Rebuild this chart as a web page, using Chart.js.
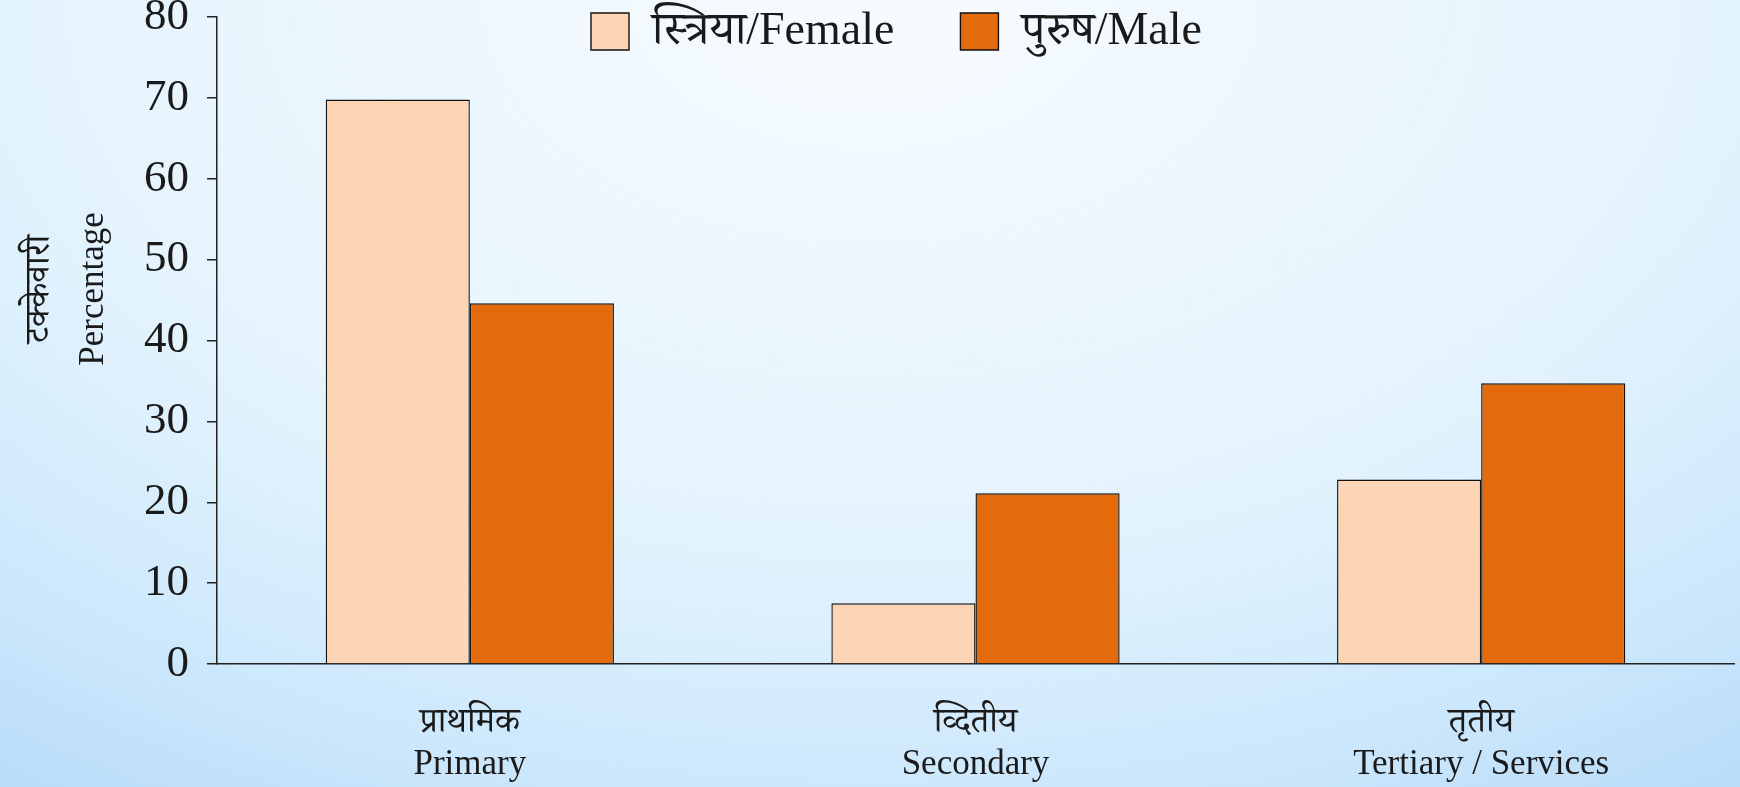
<!DOCTYPE html>
<html lang="ne">
<head>
<meta charset="UTF-8" />
<title>Employment by sector - Female / Male</title>
<script src="https://cdn.jsdelivr.net/npm/chart.js"></script>
<style>
  html, body {
    margin: 0;
    padding: 0;
  }
  body {
    width: 1740px;
    height: 787px;
    overflow: hidden;
    background: radial-gradient(ellipse 1531px 957px at 870px 0px,
      #f7fbff 0%, #e3f3fd 57%, #cde8fc 82%, #b9dcf8 100%);
  }
  .wrap {
    position: relative;
    width: 1740px;
    height: 787px;
  }
</style>
</head>
<body>

<div class="wrap">
  <canvas id="chart"></canvas>
</div>

<script>
  // data
  const categories = [
    ['प्राथमिक', 'Primary'],
    ['व्दितीय', 'Secondary'],
    ['तृतीय', 'Tertiary / Services']
  ];
  const femaleValues = [69.8, 7.5, 22.8];
  const maleValues = [44.6, 21.1, 34.7];
  const seriesNames = ['स्त्रिया/Female', 'पुरुष/Male'];
  const yTitle = ['टक्केवारी', 'Percentage'];

  const serif = "'Liberation Serif', 'Noto Serif Devanagari', 'Noto Sans Devanagari', serif";
  const ink = '#1a1a1a';

  // y title drawn as two rotated lines left of the axis
  const yTitlePlugin = {
    id: 'yTitle',
    afterDraw(chart) {
      const ctx = chart.ctx;
      ctx.save();
      ctx.fillStyle = ink;
      ctx.font = '35px ' + serif;
      ctx.textAlign = 'center';
      ctx.textBaseline = 'middle';
      const xs = [40, 94];
      yTitle.forEach((t, i) => {
        ctx.save();
        ctx.translate(xs[i], 289);
        ctx.rotate(-Math.PI / 2);
        ctx.fillText(t, 0, 0);
        ctx.restore();
      });
      ctx.restore();
    }
  };

  // legend lives inside the plot area but laid out in one row
  const LEGEND_X = 591, LEGEND_Y = 13;
  const legendRow = {
    id: 'legendRow',
    beforeLayout(chart) {
      if (chart.legend) chart.legend.isHorizontal = () => true;
    },
    afterLayout(chart) {
      const lg = chart.legend;
      if (!lg) return;
      const lab = lg.options.labels;
      const itemH = Math.max(lab.font.size, lab.boxHeight);
      const w = lg.width;
      lg.left = LEGEND_X - lab.padding;
      lg.right = lg.left + w;
      lg.top = LEGEND_Y - lab.padding - (itemH - lab.boxHeight) / 2;
      lg.bottom = lg.top + lg.height;
    }
  };

  const chart = new Chart(document.getElementById('chart'), {
    type: 'bar',
    data: {
      labels: categories,
      datasets: [
        {
          label: seriesNames[0],
          data: femaleValues,
          backgroundColor: '#fdd4b4',
          borderColor: '#111',
          borderWidth: 1.4,
          categoryPercentage: 0.57,
          barPercentage: 1.0
        },
        {
          label: seriesNames[1],
          data: maleValues,
          backgroundColor: '#e36b0c',
          borderColor: '#111',
          borderWidth: 1.4,
          categoryPercentage: 0.57,
          barPercentage: 1.0
        }
      ]
    },
    options: {
      responsive: true,
      maintainAspectRatio: false,
      animation: false,
      layout: {
        padding: { left: 0, right: 6, top: 17, bottom: 0 }
      },
      plugins: {
        tooltip: { enabled: false },
        legend: {
          position: 'chartArea',
          align: 'start',
          labels: {
            boxWidth: 38,
            boxHeight: 37,
            padding: 66,
            color: ink,
            font: { family: serif, size: 46 }
          }
        }
      },
      scales: {
        x: {
          grid: { display: false, drawTicks: false },
          border: { display: true, color: '#222', width: 1.5 },
          ticks: {
            color: ink,
            padding: 38,
            maxRotation: 0,
            autoSkip: false,
            font: { family: serif, size: 35, lineHeight: 1.2 }
          },
          afterFit(scale) {
            scale.height = 123;
          }
        },
        y: {
          min: 0,
          max: 80,
          grid: {
            drawOnChartArea: false,
            drawTicks: true,
            tickLength: 10,
            color: '#222',
            lineWidth: 1.5
          },
          border: { display: true, color: '#222', width: 1.5 },
          ticks: {
            stepSize: 10,
            color: ink,
            padding: 18,
            font: { family: serif, size: 45 }
          },
          afterFit(scale) {
            scale.width = 217;
            scale.paddingTop = 0;
          }
        }
      }
    },
    plugins: [yTitlePlugin, legendRow]
  });
</script>

</body>
</html>
